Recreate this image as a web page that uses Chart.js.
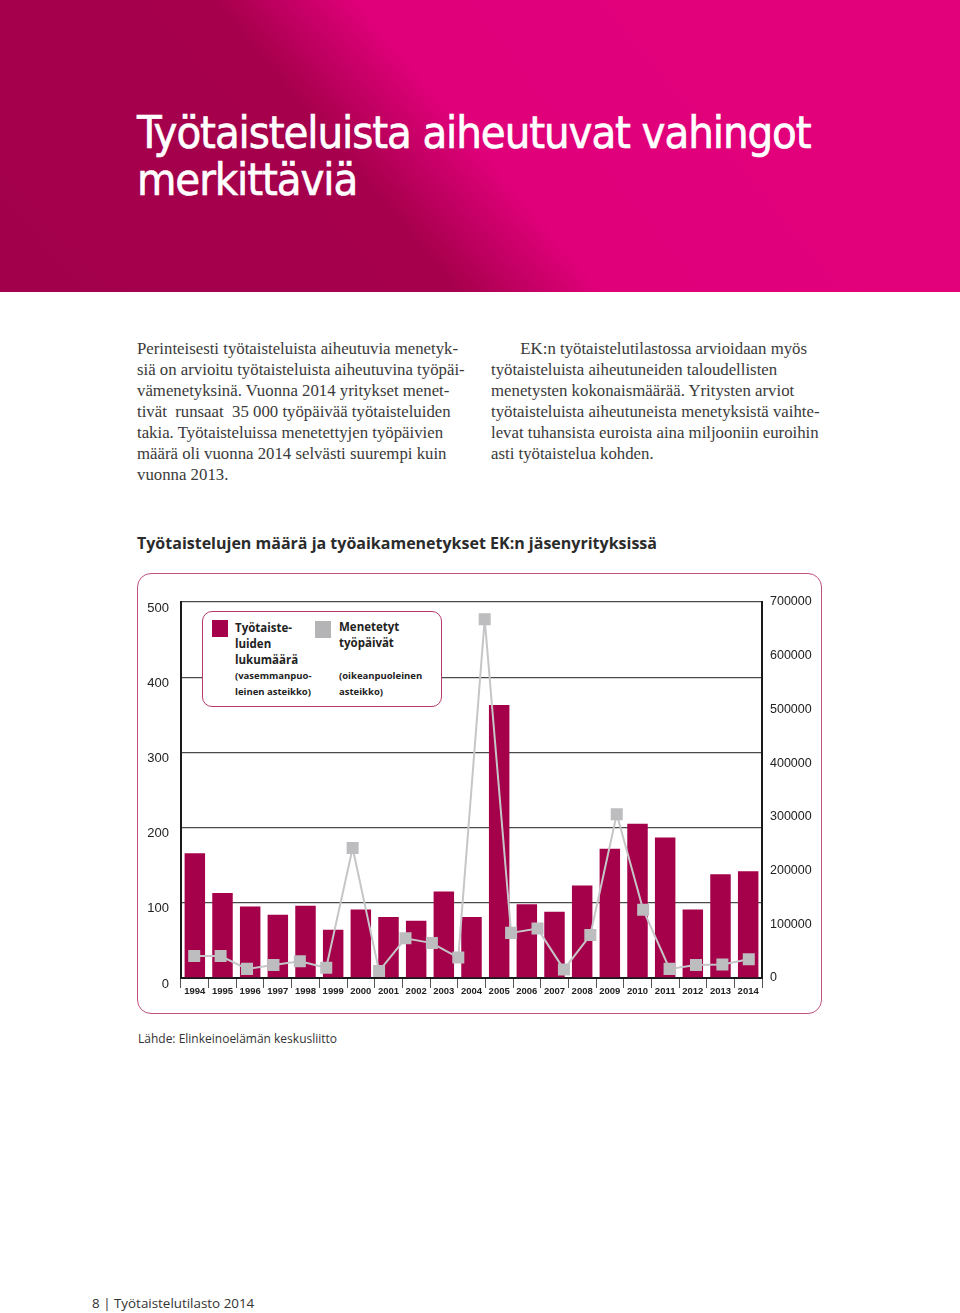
<!DOCTYPE html>
<html lang="fi">
<head>
<meta charset="utf-8">
<title>Työtaisteluista aiheutuvat vahingot merkittäviä</title>
<script src="https://cdn.jsdelivr.net/npm/chart.js@4.4.1/dist/chart.umd.min.js"></script>
<style>
  html, body { margin: 0; padding: 0; }
  body { width: 960px; height: 1313px; position: relative; background: #fff; overflow: hidden; }
  .header {
    position: absolute; left: 0; top: 0; width: 960px; height: 292px;
    background: linear-gradient(50deg, #a3004b 0%, #a6004c 38%, #e0007a 50%, #e3007b 100%);
  }
  .header h1 {
    position: absolute; left: 137px; top: 109px; margin: 0;
    font-family: "Liberation Sans Narrow", "DejaVu Sans Condensed", sans-serif;
    font-weight: normal; font-size: 45px; line-height: 47px; color: #fff;
    letter-spacing: -1.1px; -webkit-text-stroke: 0.6px #fff;
  }
  .col {
    position: absolute; top: 338px;
    font-family: "Liberation Serif", serif; font-size: 16.8px; line-height: 21px;
    color: #3a3a3a; white-space: nowrap;
  }
  .col.left { left: 137px; }
  .col.right { left: 491px; }
  .chart-title {
    position: absolute; left: 137px; top: 532px;
    font-family: "Open Sans", sans-serif; font-weight: bold; font-size: 16px; color: #2b2b2b;
  }
  .frame {
    position: absolute; left: 137px; top: 573px; width: 683px; height: 439px;
    border: 1.5px solid #c0507e; border-radius: 14px;
  }
  .chart-wrap { position: absolute; left: 137px; top: 573px; width: 686px; height: 442px; }
  .legend {
    position: absolute; left: 202px; top: 611px; width: 238px; height: 94px;
    border: 1.5px solid #b33a6a; border-radius: 10px; background: #fff;
    font-family: "Open Sans", sans-serif; font-weight: bold; color: #222;
  }
  .legend .sw { position: absolute; width: 16px; height: 17px; }
  .legend .big { position: absolute; font-size: 11.5px; line-height: 16px; }
  .legend .small { position: absolute; font-size: 9.5px; line-height: 16px; }
  .source {
    position: absolute; left: 138px; top: 1030px;
    font-family: "Open Sans", sans-serif; font-size: 12px; color: #333;
  }
  .footer {
    position: absolute; left: 92px; top: 1294px;
    font-family: "Open Sans", sans-serif; font-size: 13.4px; color: #333;
  }
</style>
</head>
<body>
<div class="header">
  <h1>Työtaisteluista aiheutuvat vahingot<br>merkittäviä</h1>
</div>

<div class="col left">
  Perinteisesti työtaisteluista aiheutuvia menetyk-<br>
  siä on arvioitu työtaisteluista aiheutuvina työpäi-<br>
  vämenetyksinä. Vuonna 2014 yritykset menet-<br>
  tivät&nbsp; runsaat&nbsp; 35 000 työpäivää työtaisteluiden<br>
  takia. Työtaisteluissa menetettyjen työpäivien<br>
  määrä oli vuonna 2014 selvästi suurempi kuin<br>
  vuonna 2013.
</div>
<div class="col right">
  &nbsp;&nbsp;&nbsp;&nbsp;&nbsp;&nbsp;&nbsp;EK:n työtaistelutilastossa arvioidaan myös<br>
  työtaisteluista aiheutuneiden taloudellisten<br>
  menetysten kokonaismäärää. Yritysten arviot<br>
  työtaisteluista aiheutuneista menetyksistä vaihte-<br>
  levat tuhansista euroista aina miljooniin euroihin<br>
  asti työtaistelua kohden.
</div>

<div class="chart-title">Työtaistelujen määrä ja työaikamenetykset EK:n jäsenyrityksissä</div>

<div class="frame"></div>
<div class="chart-wrap"><canvas id="strikeChart"></canvas></div>

<div class="legend">
  <div class="sw" style="left:9px;top:8px;background:#a5004a"></div>
  <div class="big" style="left:32px;top:8px">Työtaiste-<br>luiden<br>lukumäärä</div>
  <div class="small" style="left:32px;top:56px">(vasemmanpuo-<br>leinen asteikko)</div>
  <div class="sw" style="left:112px;top:9px;background:#b4b4b6"></div>
  <div class="big" style="left:136px;top:7px">Menetetyt<br>työpäivät</div>
  <div class="small" style="left:136px;top:56px">(oikeanpuoleinen<br>asteikko)</div>
</div>

<div class="source">Lähde: Elinkeinoelämän keskusliitto</div>
<div class="footer">8 | Työtaistelutilasto 2014</div>

<script>
const years = ["1994","1995","1996","1997","1998","1999","2000","2001","2002","2003","2004",
  "2005","2006","2007","2008","2009","2010","2011","2012","2013","2014"];
// number of strikes, left axis
const strikeCounts = [166, 113, 95, 84, 96, 64, 91, 81, 76, 115, 81,
  363, 98, 88, 123, 172, 205, 187, 91, 138, 142];
// lost working days, right axis (22 markers in the source, spread evenly over the plot)
const lineSlots = ["1","2","3","4","5","6","7","8","9","10","11",
  "12","13","14","15","16","17","18","19","20","21","22"];
const lostDays = [41000, 41000, 17000, 24000, 31000, 19000, 242000, 13000, 74000, 65000, 38000,
  668000, 84000, 92000, 16000, 80000, 305000, 127000, 17000, 24000, 25000, 35000];
const leftTicks = [0, 100, 200, 300, 400, 500];
const rightTicks = [0, 100000, 200000, 300000, 400000, 500000, 600000, 700000];

const crimson = "#a5004a";
const grey = "#bdbdbf";

new Chart(document.getElementById("strikeChart"), {
  type: "bar",
  data: {
    labels: years,
    datasets: [
      {
        type: "line",
        label: "Menetetyt työpäivät",
        data: lostDays,
        xAxisID: "x2",
        yAxisID: "y2",
        borderColor: "#c6c6c8",
        borderWidth: 2,
        pointStyle: "rect",
        pointRadius: 8.5,
        pointBackgroundColor: grey,
        pointBorderWidth: 0,
        order: 0
      },
      {
        type: "bar",
        label: "Työtaisteluiden lukumäärä",
        data: strikeCounts,
        backgroundColor: crimson,
        xAxisID: "x",
        yAxisID: "y",
        grouped: false,
        barPercentage: 0.74,
        categoryPercentage: 1,
        order: 1
      }
    ]
  },
  options: {
    responsive: true,
    maintainAspectRatio: false,
    animation: false,
    layout: { padding: { top: 29, left: 0, right: 0, bottom: 0 } },
    plugins: { legend: { display: false }, tooltip: { enabled: false } },
    scales: {
      x: {
        type: "category",
        offset: true,
        grid: { offset: true, drawOnChartArea: false, drawTicks: true, tickLength: 10, color: "#555", lineWidth: 1 },
        border: { color: "#1a1a1a", width: 2 },
        ticks: { font: { family: "Arial", size: 9.5, weight: "bold" }, color: "#222", padding: -2, maxRotation: 0, autoSkip: false },
        afterFit: s => { s.height = 37; }
      },
      x2: {
        type: "category",
        labels: lineSlots,
        offset: true,
        display: false
      },
      y: {
        position: "left",
        min: leftTicks[0],
        max: leftTicks[leftTicks.length - 1],
        afterBuildTicks: s => { s.ticks = leftTicks.map(v => ({ value: v })); },
        grid: { color: "#4a4a4a", lineWidth: 1.3, drawTicks: false },
        border: { color: "#1a1a1a", width: 2 },
        ticks: { font: { family: "Arial", size: 13 }, color: "#222", padding: 12, labelOffset: 6 },
        afterFit: s => { s.width = 44; }
      },
      y2: {
        position: "right",
        min: rightTicks[0],
        max: rightTicks[rightTicks.length - 1],
        afterBuildTicks: s => { s.ticks = rightTicks.map(v => ({ value: v })); },
        grid: { drawOnChartArea: false, drawTicks: false },
        border: { color: "#1a1a1a", width: 2 },
        ticks: { font: { family: "Arial", size: 12.5 }, color: "#222", padding: 8, callback: v => String(v) },
        afterFit: s => { s.width = 61; }
      }
    }
  }
});
</script>
</body>
</html>
